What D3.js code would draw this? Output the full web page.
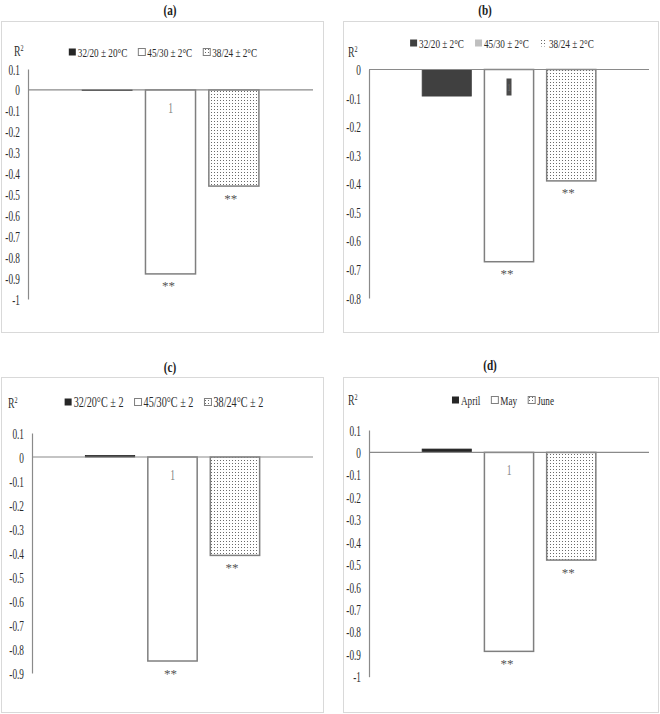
<!DOCTYPE html>
<html>
<head>
<meta charset="utf-8">
<script src="https://cdn.jsdelivr.net/npm/d3@7"></script>
<style>
  body { margin: 0; background: #fff; }
  svg, svg text { font-family: "Liberation Serif", "Times New Roman", serif; }
  svg { display: block; }
</style>
</head>
<body>
<svg id="chart" width="660" height="714"></svg>
<script>
// ---------- data ----------
const panelTitles = ["(a)", "(b)", "(c)", "(d)"];
const legendA = ["32/20 ± 20°C", "45/30 ± 2°C", "38/24 ± 2°C"];
const legendB = ["32/20 ± 2°C", "45/30 ± 2°C", "38/24 ± 2°C"];
const legendC = ["32/20°C ± 2", "45/30°C ± 2", "38/24°C ± 2"];
const legendD = ["April", "May", "June"];
const valuesA = [-0.003, -0.88, -0.46];
const valuesB = [-0.093, -0.673, -0.39];
const valuesC = [0.006, -0.85, -0.41];
const valuesD = [0.015, -0.887, -0.48];
const ticksA = [0.1, 0, -0.1, -0.2, -0.3, -0.4, -0.5, -0.6, -0.7, -0.8, -0.9, -1];
const ticksB = [0, -0.1, -0.2, -0.3, -0.4, -0.5, -0.6, -0.7, -0.8];
const ticksC = [0.1, 0, -0.1, -0.2, -0.3, -0.4, -0.5, -0.6, -0.7, -0.8, -0.9];
const ticksD = [0.1, 0, -0.1, -0.2, -0.3, -0.4, -0.5, -0.6, -0.7, -0.8, -0.9, -1];
const barLabels = ["", "1", ""];
const sigLabels = ["", "**", "**"];
const axisTitle = "R";

// ---------- layout ----------
const panels = [
  { title: panelTitles[0], legend: legendA, values: valuesA, ticks: ticksA, style: "a",
    titleXY: [170, 10], box: [1, 21, 323, 332], px: [28, 313], py: [69, 299],
    legendXY: [163, 52], legendSize: 13.5, rXY: [14, 51] },
  { title: panelTitles[1], legend: legendB, values: valuesB, ticks: ticksB, style: "b",
    titleXY: [485, 10], box: [343, 21, 658, 332], px: [369, 649], py: [69.5, 298],
    legendXY: [502, 43], legendSize: 13.5, rXY: [348, 52] },
  { title: panelTitles[2], legend: legendC, values: valuesC, ticks: ticksC, style: "a",
    titleXY: [170, 367], box: [1, 377, 323, 712], px: [32, 313], py: [433, 673],
    legendXY: [164, 402], legendSize: 15, rXY: [8, 403] },
  { title: panelTitles[3], legend: legendD, values: valuesD, ticks: ticksD, style: "a",
    titleXY: [490, 365], box: [343, 377, 658, 712], px: [369, 649], py: [430, 676.7],
    legendXY: [503, 400], legendSize: 13.5, rXY: [348, 400] }
];

const FONT = "'Liberation Serif', 'Times New Roman', serif";
const SX = 0.68;   // horizontal condensation of the serif font
const SXT = 0.64;  // for tick labels
const axisColor = "#8a8a8a";
const svg = d3.select("#chart");

const defs = svg.append("defs");
const pat = defs.append("pattern").attr("id", "dots")
  .attr("patternUnits", "userSpaceOnUse").attr("width", 3).attr("height", 3);
pat.append("rect").attr("width", 3).attr("height", 3).attr("fill", "#fff");
pat.append("rect").attr("x", 1).attr("y", 1).attr("width", 1).attr("height", 1).attr("fill", "#6a6a6a");

function txt(g, x, y, s, opts = {}) {
  return g.append("text")
    .attr("transform", `translate(${x},${y}) scale(${opts.sx || SX},1)`)
    .attr("text-anchor", opts.anchor || "middle")
    .attr("dy", "0.35em")
    .style("font-family", FONT)
    .attr("font-size", opts.size || 12)
    .attr("fill", opts.fill || "#2a2a2a")
    .attr("font-weight", opts.weight || "normal")
    .text(s);
}

const seriesIdx = [0, 1, 2];

panels.forEach(p => {
  const g = svg.append("g");
  txt(g, p.titleXY[0], p.titleXY[1], p.title, { size: 14, weight: "bold", fill: "#222", sx: 0.8 });
  g.append("rect").attr("x", p.box[0] + 0.5).attr("y", p.box[1] + 0.5)
    .attr("width", p.box[2] - p.box[0]).attr("height", p.box[3] - p.box[1])
    .attr("fill", "none").attr("stroke", "#d9d9d9");

  const dmax = p.ticks[0], dmin = p.ticks[p.ticks.length - 1];
  const y = d3.scaleLinear().domain([dmax, dmin]).range(p.py);
  const outer = d3.scaleBand().domain(["g"]).range(p.px).paddingInner(0).paddingOuter(0.306);
  const x = d3.scaleBand().domain(seriesIdx)
    .range([outer("g"), outer("g") + outer.bandwidth()]).paddingInner(0.21).paddingOuter(0);

  const ax = g.append("g").attr("transform", `translate(${p.px[0]},0)`)
    .call(d3.axisLeft(y).tickValues(p.ticks).tickSize(0).tickPadding(8)
      .tickFormat(d => String(+d.toFixed(1))));
  ax.attr("font-family", null).attr("font-size", null);
  ax.select(".domain").attr("stroke", axisColor).attr("stroke-width", 1.2);
  ax.selectAll(".tick text").each(function () {
    const t = d3.select(this);
    const tx = +t.attr("x");
    t.attr("x", null).attr("dy", "0.35em")
      .attr("transform", `translate(${tx},0) scale(${SXT},1)`)
      .style("font-family", FONT).attr("font-size", 14.5).attr("fill", "#2a2a2a");
  });

  const fills = p.style === "b" ? ["#404040", "#fff", "url(#dots)"] : ["#262626", "#fff", "url(#dots)"];
  g.selectAll(".bar").data(p.values).join("rect")
    .attr("x", (d, i) => x(i))
    .attr("width", x.bandwidth())
    .attr("y", d => Math.min(y(d), y(0)))
    .attr("height", d => Math.abs(y(d) - y(0)))
    .attr("fill", (d, i) => fills[i])
    .attr("stroke", (d, i) => i === 0 ? fills[0] : "#7f7f7f")
    .attr("stroke-width", (d, i) => i === 0 ? 0.8 : 1.5);

  g.append("line").attr("x1", p.px[0]).attr("x2", p.px[1])
    .attr("y1", y(0)).attr("y2", y(0)).attr("stroke", axisColor).attr("stroke-width", 1.2);

  p.values.forEach((v, i) => {
    if (!barLabels[i]) return;
    const cx = x(i) + x.bandwidth() / 2;
    if (p.style === "b") {
      g.append("rect").attr("x", cx - 2.5).attr("y", y(0) + 9).attr("width", 5).attr("height", 17)
        .attr("fill", "#4a4a4a");
      txt(g, cx, y(0) + 17.5, barLabels[i], { size: 11, fill: "#6a6a6a" });
    } else {
      txt(g, cx, y(0) + 18, barLabels[i], { size: 14, fill: "#7f7f7f" });
    }
  });
  p.values.forEach((v, i) => {
    if (!sigLabels[i]) return;
    const cx = x(i) + x.bandwidth() / 2 - (i === 2 ? 3 : 2);
    txt(g, cx, y(v) + 12, sigLabels[i], { size: 13, fill: "#555", sx: 1 });
  });

  const rt = g.append("text")
    .attr("transform", `translate(${p.rXY[0]},${p.rXY[1]}) scale(${SX},1)`)
    .style("font-family", FONT)
    .attr("dy", "0.35em").attr("font-size", 14.5).attr("fill", "#2a2a2a");
  rt.append("tspan").text(axisTitle);
  rt.append("tspan").attr("font-size", 9).attr("dy", "-0.6em").text("2");

  const lg = g.append("g");
  const items = [];
  const ms = 7, mgap = 2, igap = 11;
  let cur = 0;
  p.legend.forEach((lab) => {
    const it = lg.append("g");
    const t = it.append("text").style("font-family", FONT).attr("font-size", p.legendSize)
      .attr("fill", "#2a2a2a").attr("dy", "0.35em").text(lab);
    const w = t.node().getComputedTextLength() * SX;
    items.push({ it, t, w, x: cur });
    cur += ms + mgap + w + igap;
  });
  const total = cur - igap;
  const lx0 = p.legendXY[0] - total / 2;
  items.forEach((o, i) => {
    const bx = lx0 + o.x;
    o.t.attr("transform", `translate(${bx + ms + mgap},${p.legendXY[1]}) scale(${SX},1)`);
    const m = o.it.insert("rect", "text").attr("x", bx).attr("y", p.legendXY[1] - ms / 2)
      .attr("width", ms).attr("height", ms);
    if (p.style === "b") {
      if (i === 0) m.attr("fill", "#404040");
      else if (i === 1) m.attr("fill", "#bfbfbf");
      else m.attr("fill", "url(#dots)");
    } else {
      if (i === 0) m.attr("fill", "#262626");
      else if (i === 1) m.attr("fill", "#fff").attr("stroke", "#7f7f7f").attr("stroke-width", 1);
      else m.attr("fill", "url(#dots)").attr("stroke", "#7f7f7f").attr("stroke-width", 1);
    }
  });
});
</script>
</body>
</html>
